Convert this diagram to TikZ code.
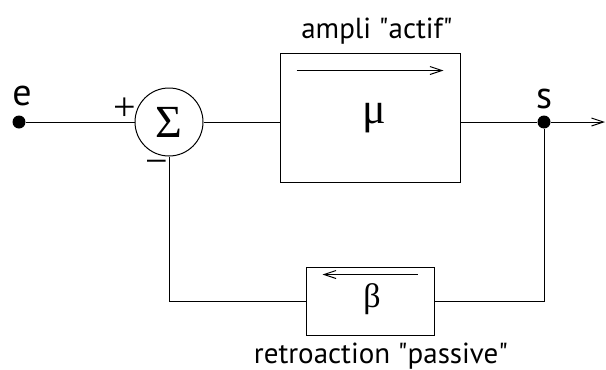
\documentclass[tikz,border=0pt]{standalone}
\usepackage{fontspec}
\setmainfont{PT Sans}
\newfontfamily\grk{Liberation Serif}
\usetikzlibrary{arrows.meta}
\tikzset{
  dot/.style={circle,fill,inner sep=0pt,minimum size=13pt},
  sumnode/.style={circle,draw,inner sep=0pt,minimum size=68pt},
  blockbox/.style={draw,inner sep=0pt},
  sign/.style={inner sep=0pt,anchor=base,font=\grk\fontsize{40}{44}\selectfont},
  arr/.style={-{Straight Barb[length=12pt,width=8pt]}},
}
\begin{document}
\begin{tikzpicture}[x=1pt,y=-1pt,line width=1pt]
\useasboundingbox (0,0) rectangle (606,370);
\node[dot](e) at (19,122){};
\node[anchor=base] at (22,105){\fontsize{38}{42}\selectfont e};
\node[sumnode](sum) at (169,122){\grk\fontsize{46}{50}\selectfont Σ};
\node[sign] at (125,120){+};
\node[sign] at (157,174){−};
\node[blockbox,minimum width=180pt,minimum height=129pt](mu) at (370,117.5){};
\node[anchor=base] at (374,123){\grk\fontsize{44}{48}\selectfont μ};
\node[anchor=base] at (377,38){\fontsize{29}{33}\selectfont ampli \textquotedbl actif\textquotedbl};
\node[dot](s) at (544,122){};
\node[anchor=base] at (544,108){\fontsize{38}{42}\selectfont s};
\coordinate (out) at (605,122);
\node[blockbox,minimum width=128pt,minimum height=68pt](beta) at (370,301){};
\node[anchor=base] at (372,307){\grk\fontsize{34}{38}\selectfont β};
\node[anchor=base,inner sep=0pt] at (381,363){\fontsize{29}{33}\selectfont retroaction \textquotedbl passive\textquotedbl};
% liaisons
\draw (e)--(sum);
\draw (sum.east)--(sum.east-|mu.west);
\draw (s-|mu.east)--(s);
\draw[arr] (s)--(out);
\draw (s)|-(beta);
\draw (beta)-|(sum);
% sens de transmission
\draw[arr] ([shift={(17,18)}]mu.north west)--([shift={(-17,18)}]mu.north east);
\draw[arr] ([shift={(-17,8)}]beta.north east)--([shift={(17,8)}]beta.north west);
\end{tikzpicture}
\end{document}
